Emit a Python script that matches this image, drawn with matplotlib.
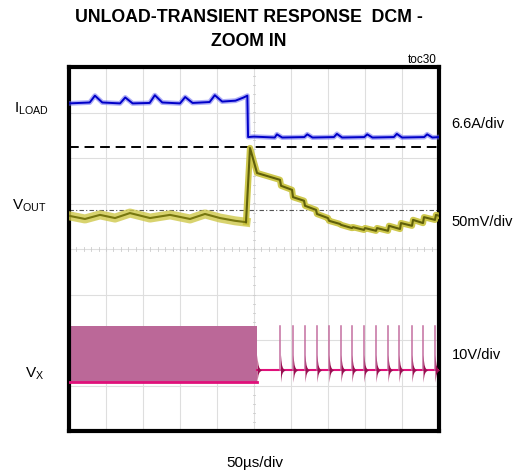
import matplotlib
matplotlib.use("Agg")
import matplotlib.pyplot as plt
import numpy as np

plt.rcParams['font.family'] = ['Liberation Sans', 'DejaVu Sans']

# time in us, levels in screen divisions (0..8 from the bottom)
iload_t = [0, 28, 35, 45, 69, 76, 86, 109, 116, 126, 150, 157, 167, 190, 197, 207, 225, 236, 241,
           242, 250, 278, 281, 288, 318, 322, 329, 358, 362, 369, 399, 403, 410, 439, 443, 450,
           480, 484, 491, 500]
iload_v = [7.20, 7.22, 7.37, 7.22, 7.20, 7.33, 7.20, 7.21, 7.38, 7.22, 7.20, 7.34, 7.21, 7.23, 7.38,
           7.24, 7.26, 7.33, 7.37,
           6.46, 6.47, 6.45, 6.52, 6.45, 6.46, 6.52, 6.45, 6.46, 6.53, 6.45, 6.46, 6.52, 6.45,
           6.46, 6.53, 6.45, 6.46, 6.52, 6.45, 6.46]

vout_pre_t = [0, 21.6, 41.9, 62.2, 82.4, 109.5, 136.5, 163.5, 183.8, 204.1, 224.3, 239.2]
vout_pre_v = [4.73, 4.66, 4.75, 4.68, 4.79, 4.68, 4.75, 4.66, 4.77, 4.68, 4.62, 4.59]
vout_post_t = [239.2, 244.6, 254.1, 285.1, 286.5, 301.4, 302.7, 317.6, 318.9, 333.8, 335.1, 350.0,
               351.4, 366.2, 367.6, 382.4, 383.8, 398.6, 400.0, 414.9, 416.2, 431.1, 432.4, 447.3,
               448.6, 463.5, 464.9, 478.4, 479.7, 494.6, 495.9, 500]
vout_post_v = [4.59, 6.22, 5.67, 5.52, 5.39, 5.30, 5.14, 5.06, 4.95, 4.86, 4.77, 4.68,
               4.62, 4.55, 4.53, 4.46, 4.48, 4.42, 4.46, 4.40, 4.46, 4.40, 4.51, 4.44,
               4.57, 4.51, 4.64, 4.57, 4.70, 4.64, 4.75, 4.73]

vx_low, vx_high, vx_idle = 1.08, 2.31, 1.34
vx_block_end = 254
vx_pulse_t = [285.8, 302.8, 318.9, 335.1, 351.4, 367.6, 382.4, 398.6, 414.9, 431.1, 446.0,
              463.5, 478.4, 494.6]
ring_dt = [0, 0.6, 1.4, 2.6, 4.2, 6.5]
ring_up = [0.34, 0.22, 0.12, 0.06, 0.02, 0.0]
ring_dn = [0.27, 0.18, 0.10, 0.05, 0.02, 0.0]

dashed_level = 6.24
dashdot_level = 4.86

fig = plt.figure(figsize=(5.21, 4.74), dpi=100)
W, H = 521, 474
ax = fig.add_axes([69 / W, 1 - 431 / H, 370 / W, 364 / H])
ax.set_xlim(0, 500)
ax.set_ylim(0, 8)

for x in range(50, 500, 50):
    ax.axvline(x, color='#dedede', lw=0.8, zorder=0)
for y in range(1, 8):
    ax.axhline(y, color='#dedede', lw=0.8, zorder=0)
# minor ticks along the centre lines
for x in np.arange(10, 500, 10):
    ax.plot([x, x], [3.96, 4.04], color='#cccccc', lw=0.6, zorder=0)
for y in np.arange(0.2, 8, 0.2):
    ax.plot([248, 252], [y, y], color='#cccccc', lw=0.6, zorder=0)

ax.axhline(dashed_level, color='black', lw=1.4, ls=(0, (5, 3)), zorder=3)
ax.axhline(dashdot_level, color='#555555', lw=0.8, ls=(0, (4, 2, 1, 2)), zorder=1)

# I_LOAD
ax.plot(iload_t, iload_v, color='#6a6af0', lw=3.5, alpha=0.55, zorder=4)
ax.plot(iload_t, iload_v, color='#0000c8', lw=1.4, zorder=5)

# V_OUT
ax.plot(vout_pre_t, vout_pre_v, color='#cfc84a', lw=6.5, alpha=0.8, zorder=4)
ax.plot(vout_pre_t, vout_pre_v, color='#77770f', lw=1.5, zorder=5)
ax.plot(vout_post_t, vout_post_v, color='#c9c23a', lw=4.5, alpha=0.9, zorder=4)
ax.plot(vout_post_t, vout_post_v, color='#5f5f0a', lw=1.5, zorder=5)

# V_X switching block before the step
ax.fill_between([0, vx_block_end], vx_low, vx_high, color='#bb6898', lw=0, zorder=2)
ax.plot([0, vx_block_end], [vx_low, vx_low], color='#e0107a', lw=2, zorder=3)
ax.plot([vx_block_end, 500], [vx_idle, vx_idle], color='#e0107a', lw=1.5, zorder=3)
ax.fill_between([vx_block_end + d for d in ring_dt], [vx_idle - a for a in ring_dn],
                [vx_idle + a for a in ring_up], color='#9b0f52', lw=0, zorder=3)
for tp in vx_pulse_t:
    ax.plot([tp, tp], [vx_idle, vx_high], color='#c46fa0', lw=1.1, zorder=3)
    ax.fill_between([tp + d for d in ring_dt], [vx_idle - a for a in ring_dn],
                    [vx_idle + a for a in ring_up], color='#9b0f52', lw=0, zorder=3)

ax.set_xticks([])
ax.set_yticks([])
for s in ax.spines.values():
    s.set_linewidth(3)

def px(x, y):
    return x / W, 1 - y / H

fig.text(*px(249, 18), 'UNLOAD-TRANSIENT RESPONSE  DCM -', ha='center', va='center',
         fontsize=12.8, fontweight='bold')
fig.text(*px(249, 42), 'ZOOM IN', ha='center', va='center',
         fontsize=12.8, fontweight='bold')
fig.text(*px(437, 60), 'toc30', ha='right', va='center', fontsize=8.5)
fig.text(*px(14, 109), r'I$_{\mathregular{LOAD}}$', ha='left', va='center', fontsize=11)
fig.text(*px(12, 206), r'V$_{\mathregular{OUT}}$', ha='left', va='center', fontsize=11)
fig.text(*px(25, 374), r'V$_{\mathregular{X}}$', ha='left', va='center', fontsize=11)
fig.text(*px(451, 124), '6.6A/div', ha='left', va='center', fontsize=10.5)
fig.text(*px(451, 222), '50mV/div', ha='left', va='center', fontsize=10.5)
fig.text(*px(452, 355), '10V/div', ha='left', va='center', fontsize=10.5)
fig.text(*px(255, 463), '50µs/div', ha='center', va='center', fontsize=11)

fig.savefig('out.png', dpi=100)
